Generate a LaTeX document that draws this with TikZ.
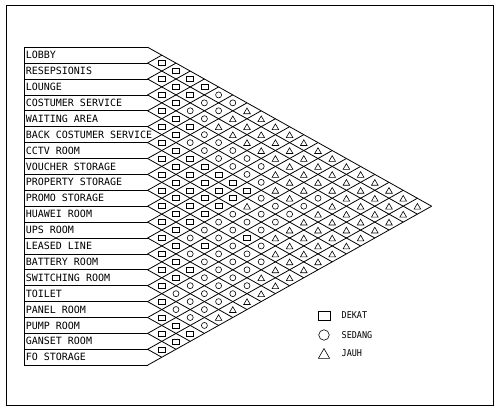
\documentclass[tikz,border=0pt]{standalone}
\usepackage{fontspec}
\newfontfamily\cadfont{DejaVu Sans Mono}
\newfontfamily\keyfont[FakeStretch=0.9]{DejaVu Sans Mono}
\usetikzlibrary{shapes.geometric}

% chart geometry (1 unit = 1pt, y going down)
\newcommand{\xl}{24}      % left side of the room boxes
\newcommand{\xr}{147.6}   % right side of the room boxes
\newcommand{\yt}{47.2}    % top of the first box
\newcommand{\rh}{15.9}    % box height
\newcommand{\hw}{14.2}    % half width of a diamond

\tikzset{
  chart/.style={line width=0.8pt, black},
  roomlabel/.style={font=\cadfont\fontsize{10}{10}\selectfont, anchor=west, inner sep=0pt},
  keylabel/.style={font=\keyfont\fontsize{9.4}{9.4}\selectfont, anchor=west, inner sep=0pt},
  symD/.style={draw, rectangle, minimum width=7pt, minimum height=5pt, inner sep=0pt, line width=0.6pt},
  symS/.style={draw, circle, minimum size=6pt, inner sep=0pt, line width=0.6pt},
  symJ/.style={draw, regular polygon, regular polygon sides=3, minimum size=7.6pt, inner sep=0pt, line width=0.6pt, yshift=-1pt},
}

% symbol for the pair (room #1, room #1+#2)
\newcommand{\rel}[3]{%
  \node[sym#3] (r#1-#2) at ({\xr+#2*\hw}, {\yt+(2*#1+#2-1)*\rh/2}) {};}

\begin{document}
\begin{tikzpicture}[x=1pt, y=-1pt]
  \useasboundingbox (0,0) rectangle (500,412);

  % drawing frame
  \draw[line width=0.6pt] (6.5,5.5) rectangle (493,405.5);

  % room boxes
  \draw[chart] (\xl,\yt) -- (\xl,{\yt+20*\rh});
  \foreach \k in {0,...,20}
    \draw[chart] (\xl,{\yt+\k*\rh}) -- (\xr,{\yt+\k*\rh});

  % diamond grid
  \foreach \k in {0,...,20} {
    \draw[chart] (\xr,{\yt+\k*\rh}) -- ({\xr+(20-\k)*\hw},{\yt+\k*\rh+(20-\k)*\rh/2});
    \draw[chart] (\xr,{\yt+\k*\rh}) -- ({\xr+\k*\hw},{\yt+\k*\rh-\k*\rh/2});
  }

  % room names
  \foreach \t [count=\i] in {LOBBY, RESEPSIONIS, LOUNGE, COSTUMER SERVICE,
      WAITING AREA, BACK COSTUMER SERVICE, CCTV ROOM, VOUCHER STORAGE,
      PROPERTY STORAGE, PROMO STORAGE, HUAWEI ROOM, UPS ROOM, LEASED LINE,
      BATTERY ROOM, SWITCHING ROOM, TOILET, PANEL ROOM, PUMP ROOM,
      GANSET ROOM, FO STORAGE}
    \node[roomlabel] (n\i) at (\xl+1.6,{\yt+(\i-0.5)*\rh}) {\t};

  % relations, one line per room (D dekat, S sedang, J jauh)
  \foreach \s [count=\k] in {D,D,D,D,S,S,J,J,J,J,J,J,J,J,J,J,J,J,J} {\rel{1}{\k}{\s}}
  \foreach \s [count=\k] in {D,D,D,S,S,J,J,J,J,J,J,J,J,J,J,J,J,J} {\rel{2}{\k}{\s}}
  \foreach \s [count=\k] in {D,D,S,S,J,J,J,J,J,J,J,J,J,J,J,J,J} {\rel{3}{\k}{\s}}
  \foreach \s [count=\k] in {D,D,D,S,S,S,S,S,J,J,J,S,J,J,J,J} {\rel{4}{\k}{\s}}
  \foreach \s [count=\k] in {D,D,S,S,S,S,S,S,J,J,S,J,J,J,J} {\rel{5}{\k}{\s}}
  \foreach \s [count=\k] in {D,D,D,D,D,D,D,S,S,S,J,J,J,J} {\rel{6}{\k}{\s}}
  \foreach \s [count=\k] in {D,D,D,D,D,D,J,S,S,J,J,J,J} {\rel{7}{\k}{\s}}
  \foreach \s [count=\k] in {D,D,D,D,D,S,S,S,J,J,J,J} {\rel{8}{\k}{\s}}
  \foreach \s [count=\k] in {D,D,D,D,S,S,D,S,J,J,J} {\rel{9}{\k}{\s}}
  \foreach \s [count=\k] in {D,D,D,S,S,S,S,S,J,J} {\rel{10}{\k}{\s}}
  \foreach \s [count=\k] in {D,D,S,D,S,S,S,J,J} {\rel{11}{\k}{\s}}
  \foreach \s [count=\k] in {D,D,S,S,S,S,S,J} {\rel{12}{\k}{\s}}
  \foreach \s [count=\k] in {D,D,D,S,S,S,J} {\rel{13}{\k}{\s}}
  \foreach \s [count=\k] in {D,D,S,S,S,J} {\rel{14}{\k}{\s}}
  \foreach \s [count=\k] in {D,S,S,S,J} {\rel{15}{\k}{\s}}
  \foreach \s [count=\k] in {D,S,S,S} {\rel{16}{\k}{\s}}
  \foreach \s [count=\k] in {D,D,D} {\rel{17}{\k}{\s}}
  \foreach \s [count=\k] in {D,D} {\rel{18}{\k}{\s}}
  \foreach \s [count=\k] in {D} {\rel{19}{\k}{\s}}

  % legend
  \node[draw, rectangle, minimum width=12pt, minimum height=9pt, inner sep=0pt, line width=0.6pt] (kD) at (324,315.5) {};
  \node[draw, circle, minimum size=10.5pt, inner sep=0pt, line width=0.6pt] (kS) at (324,335) {};
  \node[draw, regular polygon, regular polygon sides=3, minimum size=13pt, inner sep=0pt, line width=0.6pt, yshift=-1.6pt] (kJ) at (324,353.5) {};
  \node[keylabel] (tD) at (341.5,315.5) {DEKAT};
  \node[keylabel] (tS) at (341.5,335) {SEDANG};
  \node[keylabel] (tJ) at (341.5,353.5) {JAUH};
\end{tikzpicture}
\end{document}
